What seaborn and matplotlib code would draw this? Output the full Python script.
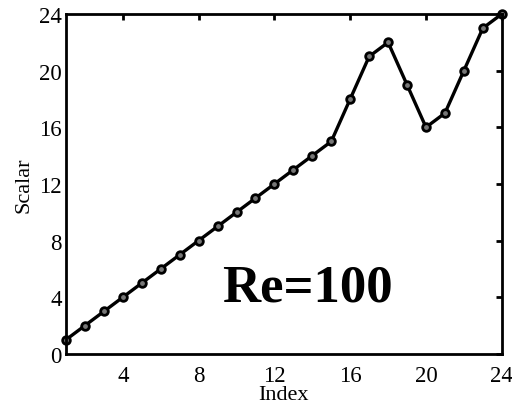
import matplotlib
matplotlib.use("Agg")
import matplotlib.pyplot as plt
import seaborn as sns
import pandas as pd

index = list(range(1, 25))
scalar = [1, 2, 3, 4, 5, 6, 7, 8, 9, 10, 11, 12, 13, 14, 15,
          18, 21, 22, 19, 16, 17, 20, 23, 24]
xticks = [4, 8, 12, 16, 20, 24]
yticks = [0, 4, 8, 12, 16, 20, 24]

sns.set_style("white")
plt.rcParams['font.family'] = ['Liberation Serif', 'DejaVu Serif']
plt.rcParams['text.color'] = 'black'
plt.rcParams['axes.labelcolor'] = 'black'
plt.rcParams['xtick.color'] = 'black'
plt.rcParams['ytick.color'] = 'black'

df = pd.DataFrame({"Index": index, "Scalar": scalar})

fig = plt.figure(figsize=(5.12, 4.06), dpi=100)
ax = fig.add_axes([0.129, 0.126, 0.851, 0.837])
sns.lineplot(data=df, x="Index", y="Scalar", ax=ax, color="black", lw=2.4,
             marker="o", markersize=5.5, markerfacecolor="#777777",
             markeredgecolor="black", markeredgewidth=2.0, clip_on=False)
ax.set_xlim(1, 24)
ax.set_ylim(0, 24)
ax.set_xticks(xticks)
ax.set_yticks(yticks)
ax.tick_params(direction="in", length=4, width=2, top=True, right=True,
               labelsize=16.5, colors="black")
ax.tick_params(axis="x", pad=8)
ax.tick_params(axis="y", pad=3)
for s in ax.spines.values():
    s.set_visible(True)
    s.set_linewidth(2)
    s.set_color("black")
ax.set_xlabel("Index", fontsize=16, labelpad=-1)
ax.set_ylabel("Scalar", fontsize=16, labelpad=4)
ax.text(9.23, 3.74, "Re=100", fontsize=38, fontweight="bold",
        ha="left", va="baseline")
fig.savefig("out.png", dpi=100)
